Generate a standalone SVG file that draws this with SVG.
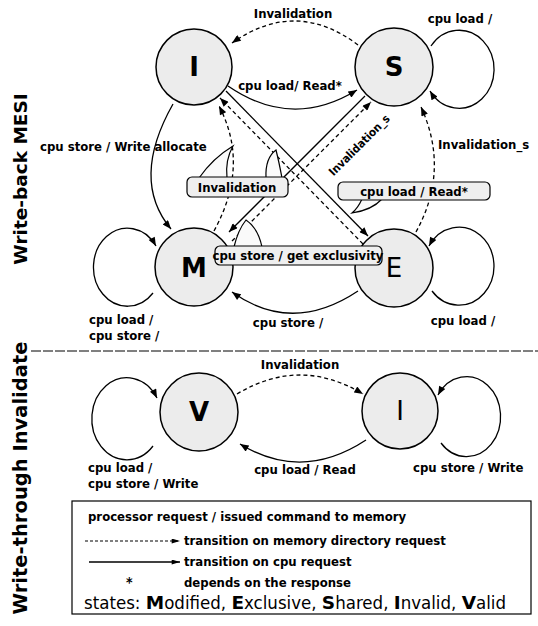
<svg xmlns="http://www.w3.org/2000/svg" width="538" height="626" viewBox="0 0 538 626">
<style>
.bg{fill:#ffffff}
.state{fill:#ececec;stroke:#000;stroke-width:1.5}
.st{font-family:"DejaVu Sans",sans-serif;font-size:26px;text-anchor:middle;fill:#000}
.b{font-weight:bold}
.e{fill:none;stroke:#000;stroke-width:1.3}
.d{stroke-dasharray:4 3}
.lbl{font-family:"DejaVu Sans Condensed","DejaVu Sans",sans-serif;font-stretch:condensed;font-weight:bold;font-size:13px;fill:#000}
.mid{text-anchor:middle}
.note{fill:#efefef;stroke:#000;stroke-width:1.2}
.tail{fill:#fafafa;stroke:#000;stroke-width:1.2}
.sec{font-family:"DejaVu Sans",sans-serif;font-weight:bold;text-anchor:middle;fill:#000}
.leg{font-family:"DejaVu Sans Condensed","DejaVu Sans",sans-serif;font-stretch:condensed;font-weight:bold;font-size:13px;fill:#000}
.big{font-family:"DejaVu Sans Condensed","DejaVu Sans",sans-serif;font-stretch:condensed;font-size:18.5px;fill:#000}
.bi{font-family:"DejaVu Sans",sans-serif;font-weight:bold;font-stretch:normal}
</style>
<defs>
<marker id="ah" viewBox="0 0 10 8" refX="10" refY="4" markerWidth="10" markerHeight="7" markerUnits="userSpaceOnUse" orient="auto"><path d="M0,0 L10,4 L0,8 z" fill="#000"/></marker>
<marker id="ahl" viewBox="0 0 10 6" refX="10" refY="3" markerWidth="10" markerHeight="5" markerUnits="userSpaceOnUse" orient="auto"><path d="M0,0 L10,3 L0,6 z" fill="#000"/></marker>
</defs>
<rect class="bg" x="0" y="0" width="538" height="626"/>

<g id="section-labels">
<text class="sec" style="font-size:18.5px" transform="translate(27,179) rotate(-90)">Write-back MESI</text>
<text class="sec" style="font-size:19.5px" transform="translate(27,478) rotate(-90)">Write-through Invalidate</text>
<line x1="31" y1="351" x2="538" y2="351" stroke="#000" stroke-width="1" stroke-dasharray="10 2"/>
</g>

<g id="connectors">
<!-- S -> I invalidation -->
<path class="e d" d="M358,45 Q296,-2 232,43" marker-end="url(#ah)"/>
<text class="lbl mid" x="293" y="18">Invalidation</text>
<!-- I -> S cpu load / Read* -->
<path class="e" d="M228,86 Q292,130 357,90" marker-end="url(#ah)"/>
<text class="lbl mid" x="290" y="90">cpu load/ Read*</text>
<!-- I -> M cpu store / Write allocate -->
<text class="lbl" x="40" y="151">cpu store / Write allocate</text>
<path class="e" d="M173,104 Q130,180 171,229" marker-end="url(#ah)"/>
<!-- M -> I dashed -->
<path class="e d" d="M214,231 Q250,165 219,106" marker-end="url(#ah)"/>
<!-- I -> E solid -->
<path class="e" d="M226,91 L368,236" marker-end="url(#ah)"/>
<!-- E -> I dashed -->
<path class="e d" d="M363,244 L220,98" marker-end="url(#ah)"/>
<!-- S -> M solid -->
<path class="e" d="M365,96 L229,232" marker-end="url(#ah)"/>
<!-- M -> S dashed -->
<path class="e d" d="M232,241 L371,102" marker-end="url(#ah)"/>
<text class="lbl mid" style="font-size:11.5px" transform="translate(362,148) rotate(-45)">Invalidation_s</text>
<!-- E -> S dashed -->
<path class="e d" d="M416,232 Q450,170 421,107" marker-end="url(#ah)"/>
<text class="lbl" x="438" y="149">Invalidation_s</text>
<!-- E -> M cpu store / -->
<path class="e" d="M358,291 Q292,335 232,292" marker-end="url(#ah)"/>
<text class="lbl mid" x="288" y="327">cpu store /</text>
<!-- self loops -->
<path class="e" d="M431,46 A35 39 0 1 1 430,91" marker-end="url(#ah)"/>
<text class="lbl mid" x="460" y="23">cpu load /</text>
<path class="e" d="M432,291 A35 39 0 1 0 429,246" marker-end="url(#ah)"/>
<text class="lbl mid" x="463" y="325">cpu load /</text>
<path class="e" d="M153,293 A34 39 0 1 1 156,246" marker-end="url(#ah)"/>
<text class="lbl" x="89" y="324">cpu load /</text>
<text class="lbl" x="89" y="340">cpu store /</text>
<!-- bottom -->
<path class="e d" d="M237,394 Q300,356 363,394" marker-end="url(#ah)"/>
<text class="lbl mid" x="300" y="369">Invalidation</text>
<path class="e" d="M366,440 Q302,482 240,444" marker-end="url(#ah)"/>
<text class="lbl mid" x="305" y="474">cpu load / Read</text>
<path class="e" d="M153,446 A35 41 0 1 1 157,398" marker-end="url(#ah)"/>
<text class="lbl" x="88" y="472">cpu load /</text>
<text class="lbl" x="88" y="488">cpu store / Write</text>
<path class="e" d="M441,443 A34 40 0 1 0 438,395" marker-end="url(#ah)"/>
<text class="lbl" x="413" y="472">cpu store / Write</text>
</g>

<g id="node-I">
<circle class="state" cx="194" cy="67" r="38"/>
<text class="st b" x="194" y="76">I</text>
</g>
<g id="node-S">
<circle class="state" cx="394" cy="67" r="39"/>
<text class="st b" x="394" y="76">S</text>
</g>
<g id="node-M">
<circle class="state" cx="194" cy="267" r="39"/>
<text class="st b" x="194" y="277">M</text>
</g>
<g id="node-E">
<circle class="state" cx="394" cy="268" r="39"/>
<text class="st" x="394" y="277">E</text>
</g>
<g id="node-V">
<circle class="state" cx="199" cy="412" r="39"/>
<text class="st b" x="199" y="421">V</text>
</g>
<g id="node-I2">
<circle class="state" cx="400" cy="411" r="38"/>
<text class="st" x="400" y="420">I</text>
</g>

<g id="note-invalidation">
<path class="tail" d="M199,178 Q213,158 233,146 Q225,160 227,178 Z"/>
<path class="tail" d="M266,178 Q265,158 276,150 Q279,162 282,178 Z"/>
<rect class="note" x="187" y="177" width="101" height="20" rx="5"/>
<text class="lbl mid" x="237" y="192">Invalidation</text>
</g>
<g id="note-cpuload">
<path class="tail" d="M362,199 Q358,208 352,213 Q372,210 382,199 Z"/>
<rect class="note" x="338" y="182" width="152" height="18" rx="5"/>
<text class="lbl mid" x="414" y="196">cpu load / Read*</text>
</g>
<g id="note-cpustore">
<path class="tail" d="M234,247 Q238,230 246,220 Q258,228 262,247 Z"/>
<rect class="note" x="215" y="246" width="167" height="19" rx="5"/>
<text class="lbl mid" x="298" y="260">cpu store / get exclusivity</text>
</g>

<g id="legend">
<rect x="72" y="501" width="459" height="113" fill="#fff" stroke="#000" stroke-width="1.2"/>
<text class="leg" x="88" y="521">processor request / issued command to memory</text>
<line x1="85" y1="541" x2="180" y2="541" stroke="#000" stroke-width="1.2" stroke-dasharray="3 2" marker-end="url(#ahl)"/>
<text class="leg" x="184" y="545">transition on memory directory request</text>
<line x1="89" y1="562" x2="180" y2="562" stroke="#000" stroke-width="1.3" marker-end="url(#ahl)"/>
<text class="leg" x="184" y="566">transition on cpu request</text>
<text class="leg" style="font-size:14px" x="126" y="587">*</text>
<text class="leg" x="184" y="587">depends on the response</text>
<text class="big" x="84" y="609">states: <tspan class="bi">M</tspan>odified, <tspan class="bi">E</tspan>xclusive, <tspan class="bi">S</tspan>hared, <tspan class="bi">I</tspan>nvalid, <tspan class="bi">V</tspan>alid</text>
</g>
</svg>
